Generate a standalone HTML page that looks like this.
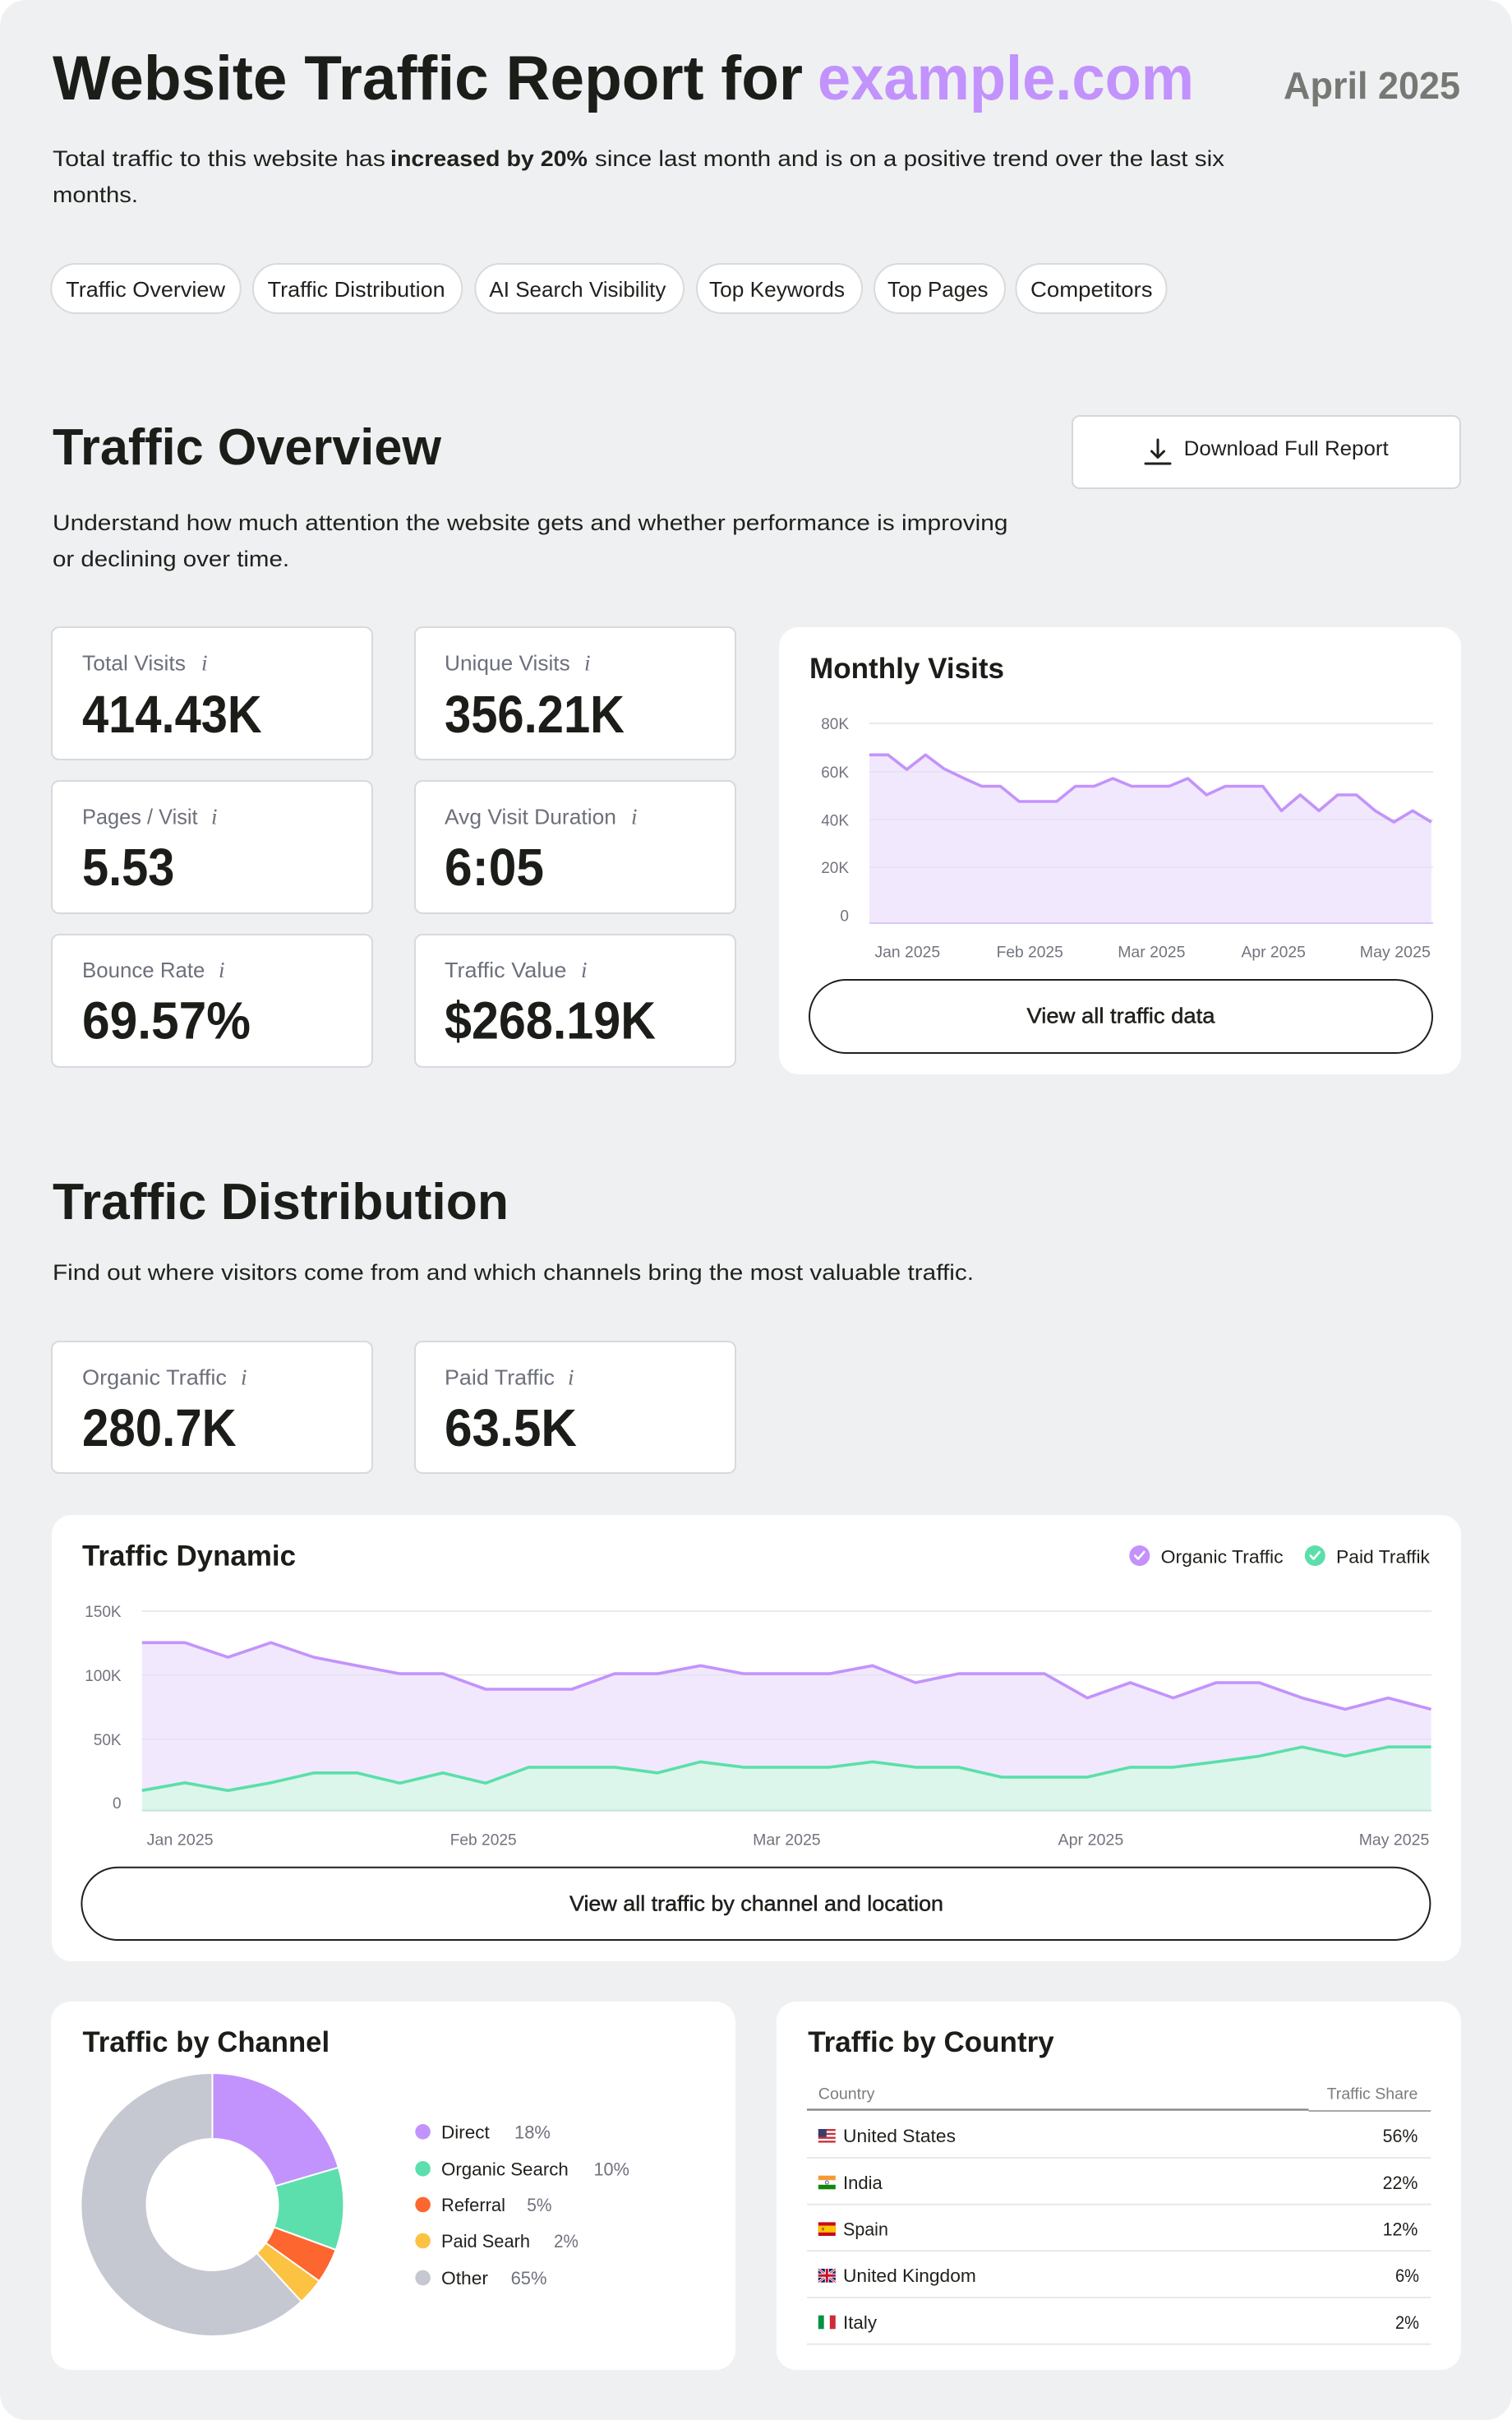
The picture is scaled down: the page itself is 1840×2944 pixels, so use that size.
<!DOCTYPE html>
<html>
<head>
<meta charset="utf-8">
<style>
html,body{margin:0;padding:0;background:#ffffff;}
svg{display:block;}
</style>
</head>
<body>
<svg width="1840" height="2944" viewBox="0 0 1840 2944" xmlns="http://www.w3.org/2000/svg" font-family="'Liberation Sans', Arial, sans-serif">
<rect width="1840" height="2944" fill="#ffffff"/>
<rect width="1840" height="2944" rx="32" fill="#eff0f2"/>

<!-- Header -->
<text x="64" y="121" font-size="76" font-weight="bold" fill="#1b1d18" textLength="913" lengthAdjust="spacingAndGlyphs">Website Traffic Report for</text>
<text x="995" y="121" font-size="76" font-weight="bold" fill="#c292fd" textLength="458" lengthAdjust="spacingAndGlyphs">example.com</text>
<text x="1562" y="120" font-size="46" font-weight="bold" fill="#767873" textLength="215" lengthAdjust="spacingAndGlyphs">April 2025</text>

<g font-size="27" fill="#1f211c">
<text x="64" y="202" textLength="405" lengthAdjust="spacingAndGlyphs">Total traffic to this website has</text>
<text x="475" y="202" font-weight="bold" textLength="240" lengthAdjust="spacingAndGlyphs">increased by 20%</text>
<text x="724" y="202" textLength="766" lengthAdjust="spacingAndGlyphs">since last month and is on a positive trend over the last six</text>
<text x="64" y="246" textLength="104" lengthAdjust="spacingAndGlyphs">months.</text>
</g>

<!-- Pills -->
<g fill="#ffffff" stroke="#d9dadd" stroke-width="2">
<rect x="62.3" y="321" width="230.4" height="60" rx="30"/>
<rect x="307.9" y="321" width="254.4" height="60" rx="30"/>
<rect x="578.4" y="321" width="253.6" height="60" rx="30"/>
<rect x="848" y="321" width="201" height="60" rx="30"/>
<rect x="1064" y="321" width="159" height="60" rx="30"/>
<rect x="1236.4" y="321" width="183.1" height="60" rx="30"/>
</g>
<g font-size="26" fill="#1f211c">
<text x="80.2" y="361" textLength="193.8" lengthAdjust="spacingAndGlyphs">Traffic Overview</text>
<text x="325.7" y="361" textLength="216" lengthAdjust="spacingAndGlyphs">Traffic Distribution</text>
<text x="595.4" y="361" textLength="215" lengthAdjust="spacingAndGlyphs">AI Search Visibility</text>
<text x="863" y="361" textLength="165" lengthAdjust="spacingAndGlyphs">Top Keywords</text>
<text x="1080" y="361" textLength="122.5" lengthAdjust="spacingAndGlyphs">Top Pages</text>
<text x="1254" y="361" textLength="148.5" lengthAdjust="spacingAndGlyphs">Competitors</text>
</g>

<!-- Traffic Overview -->
<text x="64" y="565" font-size="62" font-weight="bold" fill="#1b1d18" textLength="473" lengthAdjust="spacingAndGlyphs">Traffic Overview</text>
<rect x="1305" y="506" width="472" height="88" rx="9" fill="#ffffff" stroke="#d6d7db" stroke-width="2"/>
<g stroke="#1f211c" stroke-width="3" fill="none" stroke-linecap="round" stroke-linejoin="round">
<line x1="1409" y1="535" x2="1409" y2="556"/>
<polyline points="1401.5,549 1409,556.5 1416.5,549"/>
<line x1="1394" y1="564" x2="1424" y2="564"/>
</g>
<text x="1440.7" y="554" font-size="25" fill="#1f211c" textLength="249" lengthAdjust="spacingAndGlyphs">Download Full Report</text>

<g font-size="27" fill="#1f211c">
<text x="64" y="645" textLength="1162.5" lengthAdjust="spacingAndGlyphs">Understand how much attention the website gets and whether performance is improving</text>
<text x="64" y="689" textLength="288" lengthAdjust="spacingAndGlyphs">or declining over time.</text>
</g>

<!-- KPI cards -->
<g fill="#ffffff" stroke="#d8d9dd" stroke-width="2">
<rect x="63" y="763" width="390" height="161" rx="9"/>
<rect x="505" y="763" width="390" height="161" rx="9"/>
<rect x="63" y="950" width="390" height="161" rx="9"/>
<rect x="505" y="950" width="390" height="161" rx="9"/>
<rect x="63" y="1137" width="390" height="161" rx="9"/>
<rect x="505" y="1137" width="390" height="161" rx="9"/>
<rect x="63" y="1632" width="390" height="160" rx="9"/>
<rect x="505" y="1632" width="390" height="160" rx="9"/>
</g>
<g font-size="26" fill="#6d707c">
<text x="100" y="815.5" textLength="126" lengthAdjust="spacingAndGlyphs">Total Visits</text>
<text x="541" y="815.5" textLength="152.7" lengthAdjust="spacingAndGlyphs">Unique Visits</text>
<text x="100" y="1002.5" textLength="140.6" lengthAdjust="spacingAndGlyphs">Pages / Visit</text>
<text x="541" y="1002.5" textLength="209" lengthAdjust="spacingAndGlyphs">Avg Visit Duration</text>
<text x="100" y="1189" textLength="149.4" lengthAdjust="spacingAndGlyphs">Bounce Rate</text>
<text x="541" y="1189" textLength="148.5" lengthAdjust="spacingAndGlyphs">Traffic Value</text>
<text x="100" y="1684.5" textLength="176" lengthAdjust="spacingAndGlyphs">Organic Traffic</text>
<text x="541" y="1684.5" textLength="134" lengthAdjust="spacingAndGlyphs">Paid Traffic</text>
</g>
<g font-size="27" fill="#6d707c" font-family="'Liberation Serif', serif" font-style="italic">
<text x="245" y="815.5">i</text>
<text x="711" y="815.5">i</text>
<text x="257" y="1002.5">i</text>
<text x="768" y="1002.5">i</text>
<text x="266" y="1189">i</text>
<text x="707" y="1189">i</text>
<text x="293" y="1684.5">i</text>
<text x="691" y="1684.5">i</text>
</g>
<g font-size="64" font-weight="bold" fill="#1b1d18">
<text x="100" y="891" textLength="218.7" lengthAdjust="spacingAndGlyphs">414.43K</text>
<text x="541" y="891" textLength="219" lengthAdjust="spacingAndGlyphs">356.21K</text>
<text x="100" y="1077" textLength="112.4" lengthAdjust="spacingAndGlyphs">5.53</text>
<text x="541" y="1077" textLength="121" lengthAdjust="spacingAndGlyphs">6:05</text>
<text x="100" y="1263.5" textLength="205" lengthAdjust="spacingAndGlyphs">69.57%</text>
<text x="541" y="1263.5" textLength="257" lengthAdjust="spacingAndGlyphs">$268.19K</text>
<text x="100" y="1759" textLength="187.6" lengthAdjust="spacingAndGlyphs">280.7K</text>
<text x="541" y="1759" textLength="161" lengthAdjust="spacingAndGlyphs">63.5K</text>
</g>

<!-- Monthly Visits card -->
<rect x="948" y="763" width="830" height="544" rx="24" fill="#ffffff"/>
<text x="985" y="825" font-size="35" font-weight="bold" fill="#1b1d18" textLength="237" lengthAdjust="spacingAndGlyphs">Monthly Visits</text>
<polygon fill="#f1e8fe" points="1057.9,918.3 1080.7,918.3 1103.5,936.1 1126.3,918.3 1149.1,935.4 1171.9,946.3 1194.7,956.5 1217.5,956.5 1240.3,975 1263.1,975 1285.9,975 1308.7,956.5 1331.5,956.5 1354.3,947 1377.1,956.5 1399.9,956.5 1422.7,956.5 1445.5,947 1468.3,967 1491.1,956.5 1513.9,956.5 1536.7,956.5 1559.5,986.3 1582.3,967 1605.1,986.3 1627.9,967 1650.7,967 1673.5,986.3 1696.3,1000.1 1719.1,986.3 1741.9,1000.1 1741.9,1123 1057.9,1123"/>
<g stroke="#e3e2ec" stroke-width="1.5">
<line x1="1058" y1="880" x2="1744" y2="880"/>
<line x1="1058" y1="939" x2="1744" y2="939"/>
<line x1="1058" y1="997" x2="1744" y2="997"/>
<line x1="1058" y1="1055" x2="1744" y2="1055"/>
</g>
<line x1="1058" y1="1123" x2="1744" y2="1123" stroke="#d9c8f7" stroke-width="2"/>
<polyline fill="none" stroke="#c393fb" stroke-width="3.6" stroke-linejoin="round" points="1057.9,918.3 1080.7,918.3 1103.5,936.1 1126.3,918.3 1149.1,935.4 1171.9,946.3 1194.7,956.5 1217.5,956.5 1240.3,975 1263.1,975 1285.9,975 1308.7,956.5 1331.5,956.5 1354.3,947 1377.1,956.5 1399.9,956.5 1422.7,956.5 1445.5,947 1468.3,967 1491.1,956.5 1513.9,956.5 1536.7,956.5 1559.5,986.3 1582.3,967 1605.1,986.3 1627.9,967 1650.7,967 1673.5,986.3 1696.3,1000.1 1719.1,986.3 1741.9,1000.1"/>
<g font-size="19" fill="#72747d" text-anchor="end">
<text x="1033" y="887">80K</text>
<text x="1033" y="946">60K</text>
<text x="1033" y="1004.5">40K</text>
<text x="1033" y="1062">20K</text>
<text x="1033" y="1120.5">0</text>
</g>
<g font-size="19.5" fill="#72747d">
<text x="1064.5" y="1164.5" textLength="79.6" lengthAdjust="spacingAndGlyphs">Jan 2025</text>
<text x="1212.6" y="1164.5" textLength="81.2" lengthAdjust="spacingAndGlyphs">Feb 2025</text>
<text x="1360.2" y="1164.5" textLength="82.3" lengthAdjust="spacingAndGlyphs">Mar 2025</text>
<text x="1510.5" y="1164.5" textLength="78.4" lengthAdjust="spacingAndGlyphs">Apr 2025</text>
<text x="1654.8" y="1164.5" textLength="86.1" lengthAdjust="spacingAndGlyphs">May 2025</text>
</g>
<rect x="985" y="1192" width="758" height="89" rx="44.5" fill="#ffffff" stroke="#1f211c" stroke-width="2"/>
<text x="1249.5" y="1244.5" font-size="26" fill="#1f211c" stroke="#1f211c" stroke-width="0.5" textLength="229" lengthAdjust="spacingAndGlyphs">View all traffic data</text>

<!-- Traffic Distribution -->
<text x="64" y="1483" font-size="62" font-weight="bold" fill="#1b1d18" textLength="555" lengthAdjust="spacingAndGlyphs">Traffic Distribution</text>
<text x="64" y="1557" font-size="27" fill="#1f211c" textLength="1121" lengthAdjust="spacingAndGlyphs">Find out where visitors come from and which channels bring the most valuable traffic.</text>

<!-- Traffic Dynamic card -->
<rect x="63" y="1843" width="1715" height="543" rx="24" fill="#ffffff"/>
<text x="100" y="1904.5" font-size="35" font-weight="bold" fill="#1b1d18" textLength="260" lengthAdjust="spacingAndGlyphs">Traffic Dynamic</text>
<circle cx="1386.8" cy="1892.5" r="12.5" fill="#c393fb"/>
<polyline points="1381.3,1892.5 1385,1896.5 1392.3,1888" fill="none" stroke="#ffffff" stroke-width="2.5" stroke-linecap="round" stroke-linejoin="round"/>
<text x="1412.6" y="1901.5" font-size="22.5" fill="#1f211c" textLength="149" lengthAdjust="spacingAndGlyphs">Organic Traffic</text>
<circle cx="1600.3" cy="1892.5" r="12.5" fill="#5bdfaa"/>
<polyline points="1594.8,1892.5 1598.5,1896.5 1605.8,1888" fill="none" stroke="#ffffff" stroke-width="2.5" stroke-linecap="round" stroke-linejoin="round"/>
<text x="1626" y="1901.5" font-size="22.5" fill="#1f211c" textLength="114" lengthAdjust="spacingAndGlyphs">Paid Traffik</text>

<polygon fill="#f1e8fe" points="172.8,1998.3 225.1,1998.3 277.4,2016.1 329.7,1998.3 382,2016.1 434.3,2026.3 486.6,2036.1 538.9,2036.1 591.1,2055 643.4,2055 695.7,2055 748,2036.1 800.3,2036.1 852.6,2026.3 904.9,2036.1 957.2,2036.1 1009.5,2036.1 1061.8,2026.3 1114.1,2047 1166.4,2036.1 1218.7,2036.1 1271,2036.1 1323.2,2065.6 1375.5,2047 1427.8,2065.6 1480.1,2047 1532.4,2047 1584.7,2065.6 1637,2079.4 1689.3,2065.6 1741.6,2079.4 1741.6,2202.6 172.8,2202.6"/>
<polygon fill="#dcf6eb" points="172.8,2178.2 225.1,2168.8 277.4,2178.2 329.7,2168.8 382,2156.8 434.3,2156.8 486.6,2169.2 538.9,2156.8 591.1,2169.2 643.4,2149.9 695.7,2149.9 748,2149.9 800.3,2156.8 852.6,2143.3 904.9,2149.9 957.2,2149.9 1009.5,2149.9 1061.8,2143.3 1114.1,2149.9 1166.4,2149.9 1218.7,2161.9 1271,2161.9 1323.2,2161.9 1375.5,2149.9 1427.8,2149.9 1480.1,2143.3 1532.4,2136.4 1584.7,2125.2 1637,2136.4 1689.3,2125.2 1741.6,2125.2 1741.6,2202.6 172.8,2202.6"/>
<g stroke="#e3e2ec" stroke-width="1.5">
<line x1="172.8" y1="1960" x2="1742" y2="1960"/>
<line x1="172.8" y1="2037.6" x2="1742" y2="2037.6"/>
<line x1="172.8" y1="2115.7" x2="1742" y2="2115.7"/>
</g>
<line x1="172.8" y1="2202.6" x2="1742" y2="2202.6" stroke="#bfe6d5" stroke-width="2"/>
<polyline fill="none" stroke="#c393fb" stroke-width="3.6" stroke-linejoin="round" points="172.8,1998.3 225.1,1998.3 277.4,2016.1 329.7,1998.3 382,2016.1 434.3,2026.3 486.6,2036.1 538.9,2036.1 591.1,2055 643.4,2055 695.7,2055 748,2036.1 800.3,2036.1 852.6,2026.3 904.9,2036.1 957.2,2036.1 1009.5,2036.1 1061.8,2026.3 1114.1,2047 1166.4,2036.1 1218.7,2036.1 1271,2036.1 1323.2,2065.6 1375.5,2047 1427.8,2065.6 1480.1,2047 1532.4,2047 1584.7,2065.6 1637,2079.4 1689.3,2065.6 1741.6,2079.4"/>
<polyline fill="none" stroke="#5bdfaa" stroke-width="3.6" stroke-linejoin="round" points="172.8,2178.2 225.1,2168.8 277.4,2178.2 329.7,2168.8 382,2156.8 434.3,2156.8 486.6,2169.2 538.9,2156.8 591.1,2169.2 643.4,2149.9 695.7,2149.9 748,2149.9 800.3,2156.8 852.6,2143.3 904.9,2149.9 957.2,2149.9 1009.5,2149.9 1061.8,2143.3 1114.1,2149.9 1166.4,2149.9 1218.7,2161.9 1271,2161.9 1323.2,2161.9 1375.5,2149.9 1427.8,2149.9 1480.1,2143.3 1532.4,2136.4 1584.7,2125.2 1637,2136.4 1689.3,2125.2 1741.6,2125.2"/>
<g font-size="19" fill="#72747d" text-anchor="end">
<text x="147.6" y="1967">150K</text>
<text x="147.6" y="2045">100K</text>
<text x="147.6" y="2123">50K</text>
<text x="147.6" y="2200">0</text>
</g>
<g font-size="19.5" fill="#72747d">
<text x="178.6" y="2244.5" textLength="81" lengthAdjust="spacingAndGlyphs">Jan 2025</text>
<text x="547.7" y="2244.5" textLength="81" lengthAdjust="spacingAndGlyphs">Feb 2025</text>
<text x="916.1" y="2244.5" textLength="82.6" lengthAdjust="spacingAndGlyphs">Mar 2025</text>
<text x="1287.5" y="2244.5" textLength="79.8" lengthAdjust="spacingAndGlyphs">Apr 2025</text>
<text x="1653.7" y="2244.5" textLength="85.6" lengthAdjust="spacingAndGlyphs">May 2025</text>
</g>
<rect x="99.4" y="2271.7" width="1641" height="88.3" rx="44.15" fill="#ffffff" stroke="#1f211c" stroke-width="2"/>
<text x="693" y="2324.4" font-size="26" fill="#1f211c" stroke="#1f211c" stroke-width="0.5" textLength="455" lengthAdjust="spacingAndGlyphs">View all traffic by channel and location</text>

<!-- Traffic by Channel -->
<rect x="62" y="2435" width="833" height="448" rx="24" fill="#ffffff"/>
<text x="100.5" y="2496" font-size="35" font-weight="bold" fill="#1b1d18" textLength="300.6" lengthAdjust="spacingAndGlyphs">Traffic by Channel</text>
<g stroke="#ffffff" stroke-width="2" stroke-linejoin="round">
<path fill="#c293fc" d="M258.4,2522 A160,160 0 0 1 411.9,2636.8 L335.1,2659.4 A80,80 0 0 0 258.4,2602 Z"/>
<path fill="#5ddfad" d="M411.9,2636.8 A160,160 0 0 1 408.7,2737 L333.5,2709.5 A80,80 0 0 0 335.1,2659.4 Z"/>
<path fill="#fe6630" d="M408.7,2737 A160,160 0 0 1 388.5,2775.1 L323.4,2728.6 A80,80 0 0 0 333.5,2709.5 Z"/>
<path fill="#fcc242" d="M388.5,2775.1 A160,160 0 0 1 366.7,2799.8 L312.6,2740.9 A80,80 0 0 0 323.4,2728.6 Z"/>
<path fill="#c5c7d1" d="M366.7,2799.8 A160,160 0 1 1 258.4,2522 L258.4,2602 A80,80 0 1 0 312.6,2740.9 Z"/>
</g>
<circle cx="514.6" cy="2593.3" r="9.3" fill="#c293fc"/>
<circle cx="514.6" cy="2638.3" r="9.3" fill="#5ddfad"/>
<circle cx="514.6" cy="2682" r="9.3" fill="#fe6630"/>
<circle cx="514.6" cy="2726" r="9.3" fill="#fcc242"/>
<circle cx="514.6" cy="2771" r="9.3" fill="#c5c7d1"/>
<g font-size="22" fill="#1f211c">
<text x="537" y="2601.3" textLength="58.8" lengthAdjust="spacingAndGlyphs">Direct</text>
<text x="537" y="2646.3" textLength="154.8" lengthAdjust="spacingAndGlyphs">Organic Search</text>
<text x="537" y="2690" textLength="78" lengthAdjust="spacingAndGlyphs">Referral</text>
<text x="537" y="2734" textLength="108" lengthAdjust="spacingAndGlyphs">Paid Searh</text>
<text x="537" y="2779" textLength="57" lengthAdjust="spacingAndGlyphs">Other</text>
</g>
<g font-size="22" fill="#6f717d">
<text x="626" y="2601.3" textLength="43.9" lengthAdjust="spacingAndGlyphs">18%</text>
<text x="722.5" y="2646.3" textLength="43.4" lengthAdjust="spacingAndGlyphs">10%</text>
<text x="641.3" y="2690" textLength="30.2" lengthAdjust="spacingAndGlyphs">5%</text>
<text x="674" y="2734" textLength="29.9" lengthAdjust="spacingAndGlyphs">2%</text>
<text x="621.6" y="2779" textLength="43.9" lengthAdjust="spacingAndGlyphs">65%</text>
</g>

<!-- Traffic by Country -->
<rect x="944.8" y="2435" width="833" height="448" rx="24" fill="#ffffff"/>
<text x="983.2" y="2496" font-size="35" font-weight="bold" fill="#1b1d18" textLength="299.5" lengthAdjust="spacingAndGlyphs">Traffic by Country</text>
<text x="995.8" y="2553.5" font-size="19" fill="#7b7d80" textLength="68.6" lengthAdjust="spacingAndGlyphs">Country</text>
<text x="1614.6" y="2553.5" font-size="19" fill="#7b7d80" textLength="110.8" lengthAdjust="spacingAndGlyphs">Traffic Share</text>
<line x1="982" y1="2566.5" x2="1592.6" y2="2566.5" stroke="#8a8c88" stroke-width="2.5"/>
<line x1="1592.6" y1="2568" x2="1741.3" y2="2568" stroke="#8a8c8a" stroke-width="1.5"/>
<g stroke="#e7e8eb" stroke-width="2">
<line x1="982" y1="2625" x2="1741.3" y2="2625"/>
<line x1="982" y1="2681.7" x2="1741.3" y2="2681.7"/>
<line x1="982" y1="2738.3" x2="1741.3" y2="2738.3"/>
<line x1="982" y1="2795" x2="1741.3" y2="2795"/>
<line x1="982" y1="2851.7" x2="1741.3" y2="2851.7"/>
</g>
<!-- flags -->
<g transform="translate(995.8,2590)">
<rect width="21" height="16.6" fill="#ffffff"/>
<rect y="0" width="21" height="2.4" fill="#c8323c"/>
<rect y="4.75" width="21" height="2.4" fill="#c8323c"/>
<rect y="9.5" width="21" height="2.4" fill="#c8323c"/>
<rect y="14.2" width="21" height="2.4" fill="#c8323c"/>
<rect width="10" height="9.5" fill="#3c3b6e"/>
</g>
<g transform="translate(995.8,2646.7)">
<rect width="21" height="5.6" fill="#f59a33"/>
<rect y="5.6" width="21" height="5.5" fill="#ffffff"/>
<rect y="11.1" width="21" height="5.5" fill="#138808"/>
<circle cx="10.5" cy="8.3" r="2" fill="none" stroke="#1a3a8a" stroke-width="0.8"/>
</g>
<g transform="translate(995.8,2703.4)">
<rect width="21" height="16.6" fill="#c60b1e"/>
<rect y="4.15" width="21" height="8.3" fill="#ffc400"/>
<rect x="4.5" y="6.5" width="2.5" height="3.5" fill="#c8503c"/>
</g>
<g transform="translate(995.8,2760)">
<rect width="21" height="16.6" fill="#012169"/>
<path d="M0,0 L21,16.6 M21,0 L0,16.6" stroke="#ffffff" stroke-width="3"/>
<path d="M0,0 L21,16.6 M21,0 L0,16.6" stroke="#c8102e" stroke-width="1"/>
<path d="M10.5,0 V16.6 M0,8.3 H21" stroke="#ffffff" stroke-width="5"/>
<path d="M10.5,0 V16.6 M0,8.3 H21" stroke="#c8102e" stroke-width="3"/>
</g>
<g transform="translate(995.8,2816.7)">
<rect width="7" height="16.6" fill="#009246"/>
<rect x="7" width="7" height="16.6" fill="#ffffff"/>
<rect x="14" width="7" height="16.6" fill="#ce2b37"/>
</g>
<g font-size="22" fill="#1f211c">
<text x="1026" y="2606.1" textLength="137" lengthAdjust="spacingAndGlyphs">United States</text>
<text x="1026" y="2662.8" textLength="47.7" lengthAdjust="spacingAndGlyphs">India</text>
<text x="1026" y="2719.5" textLength="54.9" lengthAdjust="spacingAndGlyphs">Spain</text>
<text x="1026" y="2776.1" textLength="161.8" lengthAdjust="spacingAndGlyphs">United Kingdom</text>
<text x="1026" y="2832.8" textLength="41" lengthAdjust="spacingAndGlyphs">Italy</text>
<text x="1682.6" y="2606.1" textLength="42.8" lengthAdjust="spacingAndGlyphs">56%</text>
<text x="1682.6" y="2662.8" textLength="42.8" lengthAdjust="spacingAndGlyphs">22%</text>
<text x="1682.6" y="2719.5" textLength="42.8" lengthAdjust="spacingAndGlyphs">12%</text>
<text x="1698" y="2776.1" textLength="29" lengthAdjust="spacingAndGlyphs">6%</text>
<text x="1698" y="2832.8" textLength="29" lengthAdjust="spacingAndGlyphs">2%</text>
</g>
</svg>
</body>
</html>
